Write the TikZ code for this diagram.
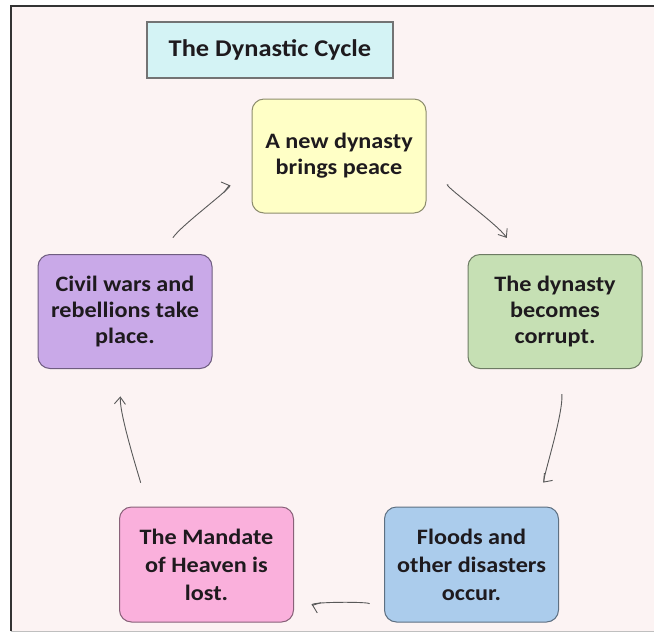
\documentclass[tikz,border=0pt]{standalone}
\usepackage{fontspec}
\setmainfont{Carlito}[FakeStretch=1.1]
\usetikzlibrary{arrows.meta}

\definecolor{pagebg}{HTML}{FCF3F3}
\definecolor{titlefill}{HTML}{D4F3F5}
\definecolor{peacefill}{HTML}{FFFFC6}
\definecolor{corruptfill}{HTML}{C6E0B4}
\definecolor{disasterfill}{HTML}{ABCCEC}
\definecolor{mandatefill}{HTML}{FAB0DC}
\definecolor{rebelfill}{HTML}{C9A9E8}
\definecolor{inktext}{HTML}{1E1A1E}

\begin{document}
\begin{tikzpicture}[x=1pt,y=1pt,
  stagebox/.style={draw=#1!55!black, fill=#1, line width=1pt, rounded corners=12pt,
    minimum width=174pt, minimum height=114pt, align=center,
    font=\fontsize{22}{26}\selectfont\bfseries, text=inktext},
  lowbox/.style={minimum height=115pt, font=\fontsize{22}{28}\selectfont\bfseries},
  cyclearrow/.style={draw=black!65, line width=0.9pt, -{Straight Barb[length=7pt,width=11pt]}}]

\useasboundingbox (0,0) rectangle (654,-633);

% page frame
\fill[pagebg] (11,-6) rectangle (660,-631);
\draw[black!80, line width=1.4pt] (11,-631) -- (11,-6) -- (660,-6);
\draw[black!25, line width=1pt] (11,-631) -- (660,-631);

% title
\node[draw=black!55, fill=titlefill, line width=1.2pt, minimum width=246pt, minimum height=56pt,
  font=\fontsize{24}{26}\selectfont\bfseries, text=inktext] (title) at (270,-50) {The Dynastic Cycle};

% the five stages
\node[stagebox=peacefill] (peace) at (339,-156) {A new dynasty\\brings peace};
\node[stagebox=corruptfill] (corrupt) at (555,-311.5) {The dynasty\\becomes\\corrupt.};
\node[stagebox=disasterfill, lowbox] (disasters) at (471.5,-564.5) {Floods and\\other disasters\\occur.};
\node[stagebox=mandatefill, lowbox] (mandate) at (206.5,-564.5) {The Mandate\\of Heaven is\\lost.};
\node[stagebox=rebelfill] (rebellion) at (125,-311.5) {Civil wars and\\rebellions take\\place.};

% arrows round the cycle
\draw[cyclearrow, shorten <=113pt, shorten >=88pt] (peace.center) to[bend left=21] (corrupt.center);
\draw[cyclearrow, shorten <=83pt, shorten >=109pt] (corrupt.center) to[bend left=23] (disasters.center);
\draw[cyclearrow, shorten <=110pt, shorten >=113pt] (disasters.center) to[bend left=21] (mandate.center);
\draw[cyclearrow, shorten <=105pt, shorten >=85pt] (mandate.center) to[bend left=21] (rebellion.center);
\draw[cyclearrow, shorten <=88pt, shorten >=113pt] (rebellion.center) to[bend left=21] (peace.center);

\end{tikzpicture}
\end{document}
